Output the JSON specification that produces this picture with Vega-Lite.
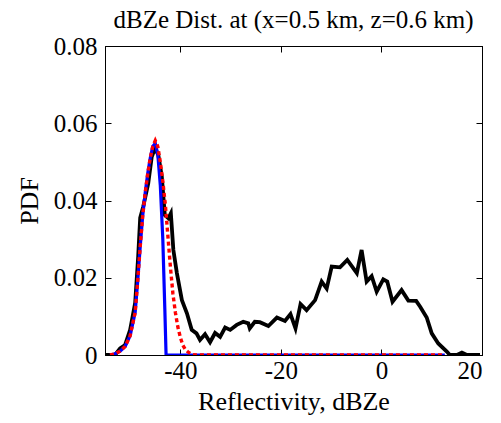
{
  "$schema": "https://vega.github.io/schema/vega-lite/v6.json",
  "width": 377,
  "height": 309,
  "autosize": {"type": "none"},
  "padding": {"left": 105, "top": 46, "right": 19, "bottom": 68},
  "title": {"text": "dBZe Dist. at (x=0.5 km, z=0.6 km)", "font": "Liberation Serif", "fontSize": 25, "fontWeight": "normal", "color": "black", "anchor": "middle", "offset": 1},
  "config": {
    "view": {"stroke": "black", "strokeWidth": 1},
    "axis": {"labelFont": "Liberation Serif", "titleFont": "Liberation Serif", "labelFontSize": 25, "titleFontSize": 26, "titleFontWeight": "normal", "labelColor": "black", "titleColor": "black", "domainColor": "black", "tickColor": "black", "grid": false}
  },
  "datasets": {
    "pdf": [
      {"s": "obs", "x": -55, "y": 0}, {"s": "obs", "x": -53, "y": 0}, {"s": "obs", "x": -52, "y": 0.0017}, {"s": "obs", "x": -51, "y": 0.0026},
      {"s": "obs", "x": -50, "y": 0.0065}, {"s": "obs", "x": -49, "y": 0.0135}, {"s": "obs", "x": -48.4, "y": 0.0255}, {"s": "obs", "x": -48, "y": 0.0355},
      {"s": "obs", "x": -47.4, "y": 0.0384}, {"s": "obs", "x": -46.4, "y": 0.0444}, {"s": "obs", "x": -45.7, "y": 0.0513}, {"s": "obs", "x": -45.05, "y": 0.0535},
      {"s": "obs", "x": -44.4, "y": 0.0518}, {"s": "obs", "x": -43.7, "y": 0.0462}, {"s": "obs", "x": -43.1, "y": 0.0362}, {"s": "obs", "x": -42.4, "y": 0.0354},
      {"s": "obs", "x": -41.9, "y": 0.0367}, {"s": "obs", "x": -41.4, "y": 0.0272}, {"s": "obs", "x": -40.7, "y": 0.0212}, {"s": "obs", "x": -39.7, "y": 0.0142},
      {"s": "obs", "x": -38.7, "y": 0.0108}, {"s": "obs", "x": -37.75, "y": 0.0065}, {"s": "obs", "x": -36.8, "y": 0.0056}, {"s": "obs", "x": -36.1, "y": 0.0039},
      {"s": "obs", "x": -35.1, "y": 0.0054}, {"s": "obs", "x": -34.1, "y": 0.0033}, {"s": "obs", "x": -33.1, "y": 0.0057}, {"s": "obs", "x": -32.1, "y": 0.0047},
      {"s": "obs", "x": -31.1, "y": 0.0071}, {"s": "obs", "x": -30.1, "y": 0.0065}, {"s": "obs", "x": -28.8, "y": 0.0078}, {"s": "obs", "x": -27.5, "y": 0.0086},
      {"s": "obs", "x": -26.5, "y": 0.0082}, {"s": "obs", "x": -26.2, "y": 0.0069}, {"s": "obs", "x": -25.2, "y": 0.0086}, {"s": "obs", "x": -24.2, "y": 0.0085},
      {"s": "obs", "x": -22.5, "y": 0.0075}, {"s": "obs", "x": -20.8, "y": 0.0097}, {"s": "obs", "x": -19.2, "y": 0.0088}, {"s": "obs", "x": -18.1, "y": 0.0106},
      {"s": "obs", "x": -17.1, "y": 0.0069}, {"s": "obs", "x": -16.1, "y": 0.0132}, {"s": "obs", "x": -14.9, "y": 0.0116}, {"s": "obs", "x": -13.2, "y": 0.0142},
      {"s": "obs", "x": -11.9, "y": 0.019}, {"s": "obs", "x": -10.9, "y": 0.0172}, {"s": "obs", "x": -9.9, "y": 0.0229}, {"s": "obs", "x": -8.25, "y": 0.0227},
      {"s": "obs", "x": -6.8, "y": 0.0246}, {"s": "obs", "x": -4.9, "y": 0.0212}, {"s": "obs", "x": -3.95, "y": 0.0272}, {"s": "obs", "x": -2.95, "y": 0.019},
      {"s": "obs", "x": -1.95, "y": 0.0204}, {"s": "obs", "x": -0.95, "y": 0.0164}, {"s": "obs", "x": 0.36, "y": 0.0196}, {"s": "obs", "x": 1.15, "y": 0.019},
      {"s": "obs", "x": 2.2, "y": 0.0138}, {"s": "obs", "x": 4.0, "y": 0.0168}, {"s": "obs", "x": 5.35, "y": 0.0141}, {"s": "obs", "x": 6.9, "y": 0.014},
      {"s": "obs", "x": 7.7, "y": 0.0125}, {"s": "obs", "x": 9.0, "y": 0.0097}, {"s": "obs", "x": 10.0, "y": 0.0056}, {"s": "obs", "x": 11.3, "y": 0.003},
      {"s": "obs", "x": 13.0, "y": 0.0009}, {"s": "obs", "x": 13.6, "y": 0}, {"s": "obs", "x": 15, "y": 0}, {"s": "obs", "x": 16, "y": 0.0006},
      {"s": "obs", "x": 17, "y": 0}, {"s": "obs", "x": 19.6, "y": 0},
      {"s": "blue", "x": -54, "y": 0}, {"s": "blue", "x": -53, "y": 0.0003}, {"s": "blue", "x": -52, "y": 0.001}, {"s": "blue", "x": -51, "y": 0.0022},
      {"s": "blue", "x": -50, "y": 0.005}, {"s": "blue", "x": -49, "y": 0.011}, {"s": "blue", "x": -48.5, "y": 0.019}, {"s": "blue", "x": -48, "y": 0.028},
      {"s": "blue", "x": -47.5, "y": 0.036}, {"s": "blue", "x": -47, "y": 0.042}, {"s": "blue", "x": -46.5, "y": 0.047}, {"s": "blue", "x": -46, "y": 0.051},
      {"s": "blue", "x": -45.5, "y": 0.054}, {"s": "blue", "x": -45, "y": 0.0548}, {"s": "blue", "x": -44.5, "y": 0.052}, {"s": "blue", "x": -44, "y": 0.044},
      {"s": "blue", "x": -43.5, "y": 0.03}, {"s": "blue", "x": -43.1, "y": 0.012}, {"s": "blue", "x": -42.85, "y": 0}, {"s": "blue", "x": 12.6, "y": 0},
      {"s": "red", "x": -54, "y": 0}, {"s": "red", "x": -53, "y": 0.0003}, {"s": "red", "x": -52, "y": 0.001}, {"s": "red", "x": -51, "y": 0.0022},
      {"s": "red", "x": -50, "y": 0.005}, {"s": "red", "x": -49, "y": 0.011}, {"s": "red", "x": -48.5, "y": 0.019}, {"s": "red", "x": -48, "y": 0.028},
      {"s": "red", "x": -47.5, "y": 0.036}, {"s": "red", "x": -47, "y": 0.042}, {"s": "red", "x": -46.5, "y": 0.047}, {"s": "red", "x": -46, "y": 0.051},
      {"s": "red", "x": -45.5, "y": 0.054}, {"s": "red", "x": -45, "y": 0.0555}, {"s": "red", "x": -44.5, "y": 0.054}, {"s": "red", "x": -44, "y": 0.05},
      {"s": "red", "x": -43.5, "y": 0.045}, {"s": "red", "x": -43, "y": 0.039}, {"s": "red", "x": -42.5, "y": 0.031}, {"s": "red", "x": -42, "y": 0.023},
      {"s": "red", "x": -41.5, "y": 0.016}, {"s": "red", "x": -41, "y": 0.011}, {"s": "red", "x": -40.5, "y": 0.0072}, {"s": "red", "x": -40, "y": 0.0045},
      {"s": "red", "x": -39.5, "y": 0.0025}, {"s": "red", "x": -39, "y": 0.0014}, {"s": "red", "x": -38.5, "y": 0.0008}, {"s": "red", "x": -38, "y": 0.0004},
      {"s": "red", "x": -37.5, "y": 0.0001}, {"s": "red", "x": -37, "y": 0}, {"s": "red", "x": 12.6, "y": 0}
    ]
  },
  "data": {"name": "pdf"},
  "resolve": {"axis": {"x": "independent", "y": "independent"}},
  "layer": [
    {
      "transform": [{"filter": "datum.s == 'obs'"}],
      "mark": {"type": "line", "color": "black", "strokeWidth": 3.8, "clip": true},
      "encoding": {
        "x": {"field": "x", "type": "quantitative", "scale": {"domain": [-55, 20], "nice": false, "zero": false},
              "axis": {"orient": "bottom", "title": "Reflectivity, dBZe", "values": [-40, -20, 0, 20], "labelExpr": "datum.value < 0 ? '-' + abs(datum.value) : '' + datum.value", "tickSize": -6, "labelPadding": 9, "titlePadding": 5}},
        "y": {"field": "y", "type": "quantitative", "scale": {"domain": [0, 0.08], "nice": false},
              "axis": {"orient": "left", "title": "PDF", "values": [0, 0.02, 0.04, 0.06, 0.08], "labelExpr": "datum.value == 0 ? '0' : format(datum.value, '.2f')", "tickSize": -6, "labelPadding": 14, "titlePadding": 11}}
      }
    },
    {
      "transform": [{"filter": "datum.s == 'blue'"}],
      "mark": {"type": "line", "color": "#0000ff", "strokeWidth": 3.2, "clip": true},
      "encoding": {
        "x": {"field": "x", "type": "quantitative", "axis": {"orient": "top", "title": null, "labels": false, "values": [-40, -20, 0, 20], "tickSize": -6}},
        "y": {"field": "y", "type": "quantitative", "axis": {"orient": "right", "title": null, "labels": false, "values": [0, 0.02, 0.04, 0.06, 0.08], "tickSize": -6}}
      }
    },
    {
      "transform": [{"filter": "datum.s == 'red'"}],
      "mark": {"type": "line", "color": "#ff0000", "strokeWidth": 3.4, "strokeDash": [4, 3], "clip": true},
      "encoding": {
        "x": {"field": "x", "type": "quantitative", "axis": null},
        "y": {"field": "y", "type": "quantitative", "axis": null}
      }
    }
  ]
}
